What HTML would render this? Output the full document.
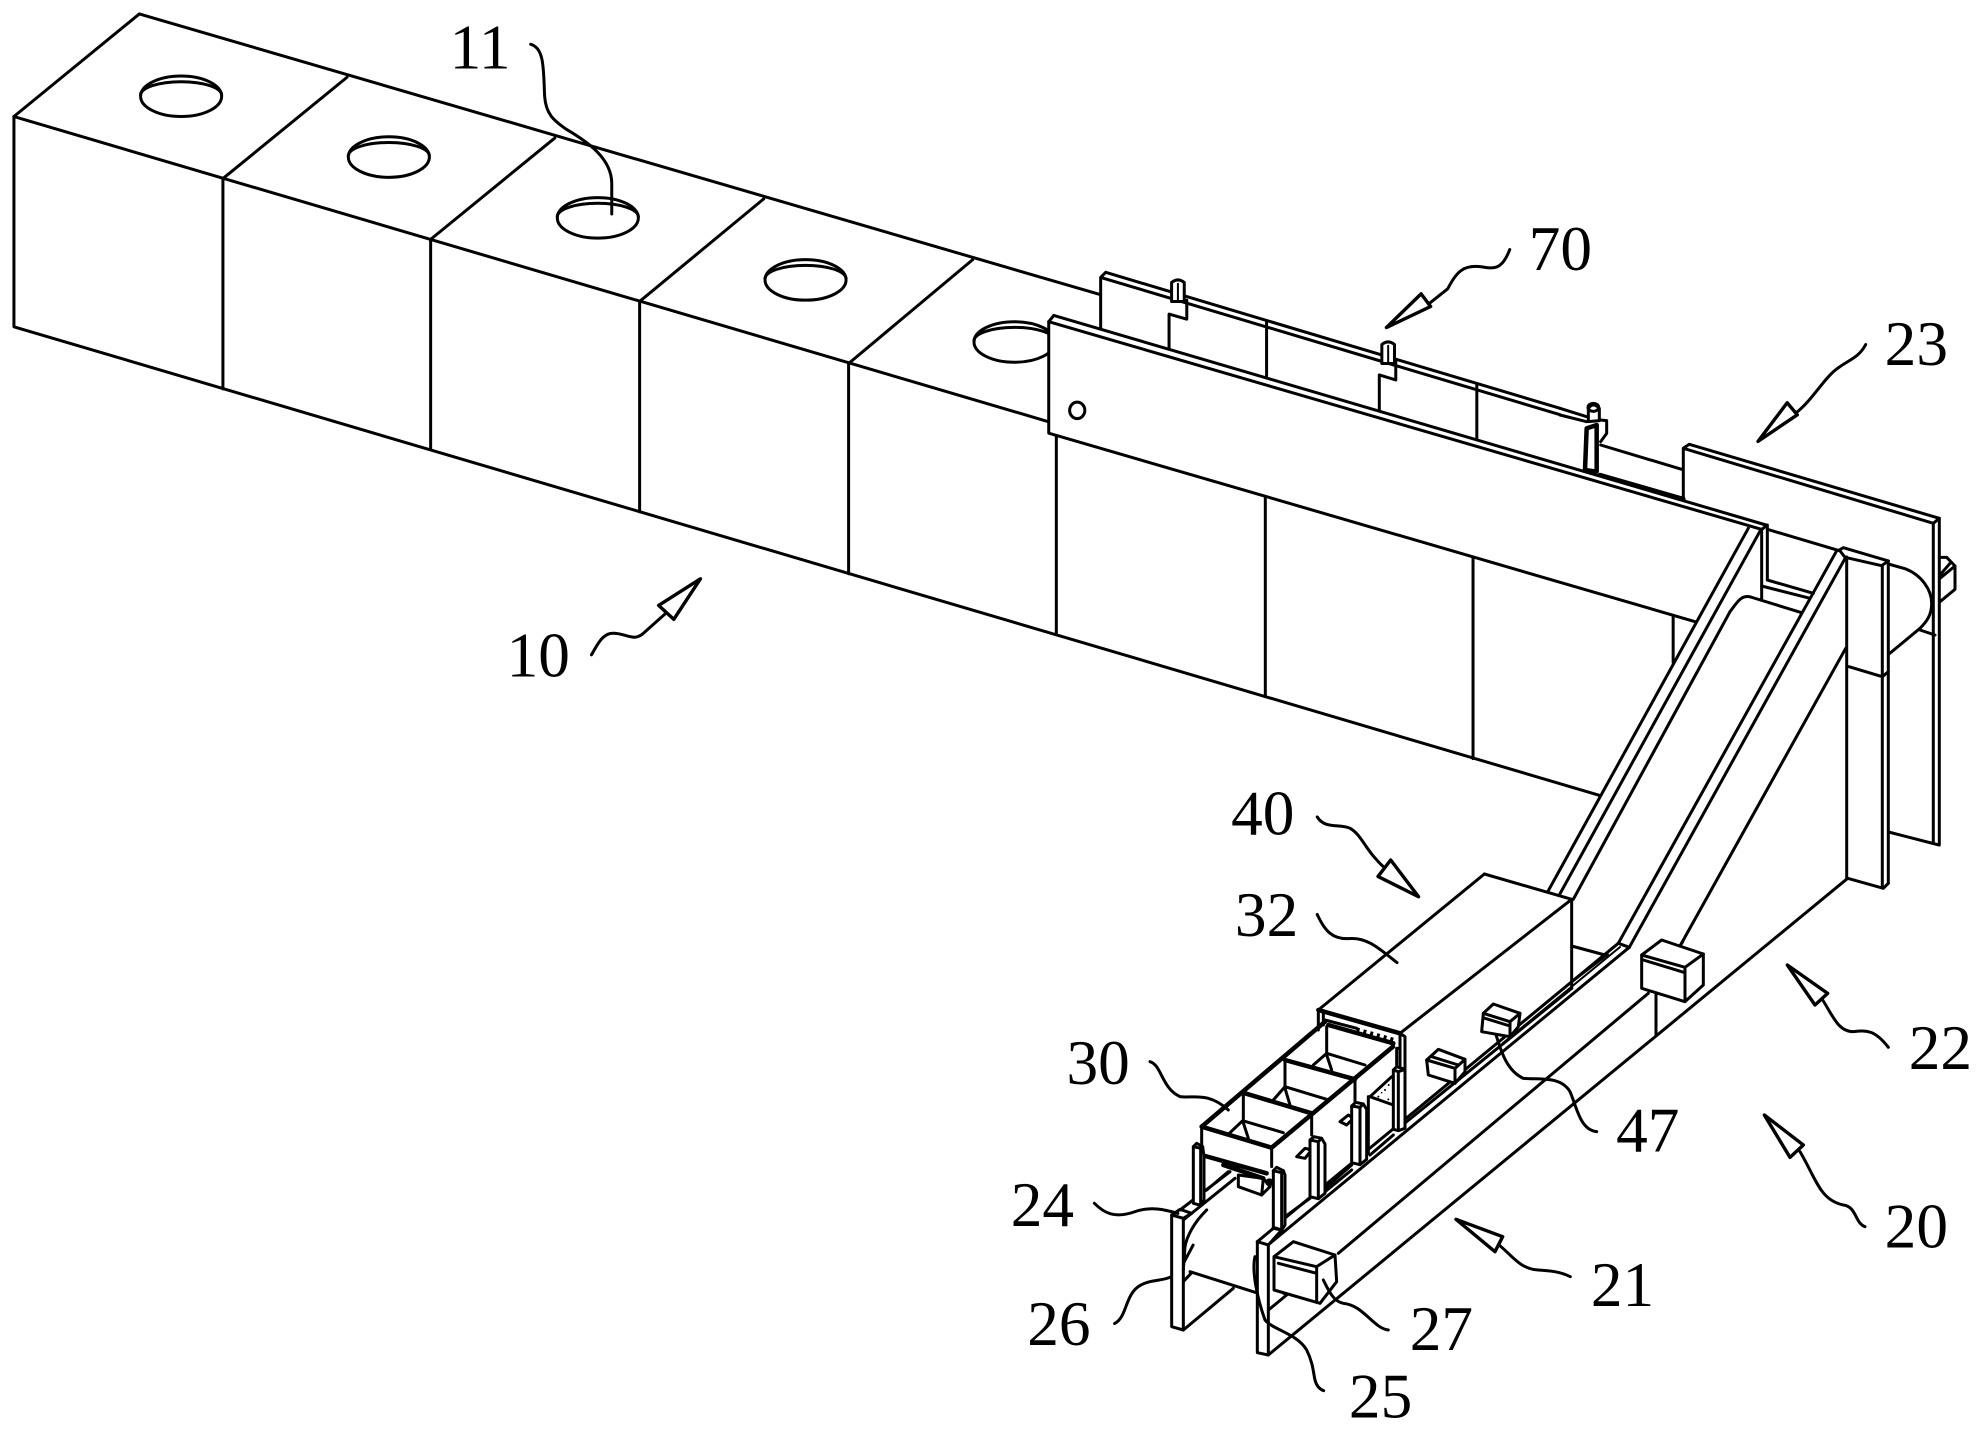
<!DOCTYPE html>
<html><head><meta charset="utf-8"><style>
html,body{margin:0;padding:0;background:#fff}
svg{display:block}
text{font-family:"Liberation Serif",serif;font-size:50px;fill:#000;stroke:none}
path,polyline,polygon,line,ellipse{stroke:#000;stroke-width:3px;fill:none;stroke-linejoin:round;stroke-linecap:round;vector-effect:non-scaling-stroke}
.w{fill:#fff}
.f{fill:#fff;stroke:none}
.a{fill:#fff;stroke-width:3.4px}
.t{stroke-width:4.5px}
.n{stroke-width:2px}
.b{fill:#000;stroke:none}
.d{stroke-width:4px;stroke-dasharray:3 4;stroke-linecap:butt}
</style></head><body>
<svg xmlns="http://www.w3.org/2000/svg" width="1986" height="1431" viewBox="0 0 1986 1431">

<!-- ========== preview coordinate space (1568 wide) ========== -->
<g transform="scale(1.26658)">
<path d="M11,92 L110,11 L870,233"/>
<path d="M11,92 L828,333"/>
<path d="M11,92 V258 L1263,628"/>
<path d="M176,141 V307 M340,189 V355 M505,238 V404 M670,287 V453"/>
<path d="M176,141 L274,61 M340,189 L438,109 M505,238 L603,157 M670,287 L768,205"/>
<path d="M834,340 V501 M999,390 V550 M1163,437 V599 M1321,486 V523"/>
<ellipse cx="143" cy="76" rx="32" ry="16"/><path d="M111,75 A32,10.5 0 0 1 175,75"/>
<ellipse cx="307" cy="124" rx="32" ry="16"/><path d="M275,123 A32,10.5 0 0 1 339,123"/>
<ellipse cx="472" cy="172" rx="32" ry="16"/><path d="M440,171 A32,10.5 0 0 1 504,171"/>
<ellipse cx="636" cy="221" rx="32" ry="16"/><path d="M604,220 A32,10.5 0 0 1 668,220"/>
<ellipse cx="801" cy="270" rx="32" ry="16"/><path d="M769,269 A32,10.5 0 0 1 833,269"/>
<!-- rear plate 70 -->
<polygon class="f" points="873,215 1257,325 1255,331 1255,370 869,260 869,219"/>
<path d="M873,215 L1231.7,322.4 M869,219 L1231.7,327.4 M873,215 L869,219 V260"/>
<path d="M1000,254 V297 M1166,304 V347"/>
<path d="M937,237 V252 L923,248 V275"/>
<path d="M1102,284 V300 L1089,296 V323"/>
<path class="w" d="M925,223 Q930,219 935,223 V238 H925 Z"/>
<path class="n" d="M930,224 V238"/>
<path class="w" d="M1091,272 Q1096,268 1101,272 V287 H1091 Z"/>
<path class="n" d="M1096,273 V287"/>
<!-- front plate -->
<polygon class="f" points="832,249 1395,414.7 1391,418 1339,491 828,342 828,254"/>
<path d="M832,249 L1395,414.7 L1391,418 L828,254 Z"/>
<path d="M828,254 V342 L1339,491"/>
<ellipse cx="850.5" cy="324" rx="6" ry="6.5"/>
<!-- leaders & arrows -->
<path d="M419,35 C430,38 429,55 430,76 C431,90 437,95 447,102 C464,112 483,125 483,145 L483,169"/>
<path d="M1192,197 C1187,210 1182,213 1172,211 C1155,208 1150,215 1143,228 L1128,240"/>
<polygon class="a" points="1094.6,258.6 1122,232 1129.5,242"/>
<path d="M1473,272 C1468,282 1460,284 1452,290 C1440,298 1432,315 1418,326"/>
<polygon class="a" points="1388,348.5 1411,318 1419,327.5"/>
<path d="M467,517 C472,508 476,500 484,500 C495,500 500,507 508,500 L527,483"/>
<polygon class="a" points="553,457 520,478 532,489"/>
<path d="M1040,645 C1046,655 1058,650 1066,654 C1076,660 1078,672 1094,686"/>
<polygon class="a" points="1120,708 1098,679 1088,692"/>
<path d="M1040,722 C1046,735 1052,742 1066,741 C1080,740 1090,750 1103,760"/>
<path d="M864,950 C872,958 880,962 895,957 C908,952 920,955 930,958"/>
<path d="M880,1045 C890,1040 888,1022 900,1015 C912,1008 925,1014 933,1000 L942,983"/>
<text x="355" y="54">11</text>
<text x="1207" y="213">70</text>
<text x="1488" y="288">23</text>
<text x="400" y="534">10</text>
<text x="972" y="659">40</text>
<text x="975" y="739">32</text>
<text x="842" y="856">30</text>
<text x="798" y="968">24</text>
<text x="811" y="1062">26</text>
<text x="1507" y="844">22</text>
<text x="1276" y="909">47</text>
<text x="1488" y="985">20</text>
<text x="1256" y="1031">21</text>
<text x="1113" y="1066">27</text>
<text x="1065" y="1119">25</text>
</g>

<!-- ========== true-pixel coordinates: long members ========== -->
<path d="M1683.3,500 V448.3 L1689.3,444.3 L1939.3,518.3 L1933.3,523.3 L1683.3,448.3"/>
<path d="M1933.3,523.3 V843 M1939.3,518.3 V845"/>
<path d="M1846.7,557 V878.3 M1882.3,565.7 V888 M1888.3,561 V883"/>
<path d="M1748.3,528.3 L1548.3,890.7"/>
<path d="M1761,529.3 L1559.3,895"/>
<path d="M1730,611.7 L1573.3,899.3"/>
<path d="M1836.7,550.7 L1618.3,943.3"/>
<path d="M1845.7,557.3 L1629.3,947.3"/>
<path d="M1845.7,648.3 L1680,946"/>
<path d="M1648.3,993.3 L1338.3,1253.3"/>
<path d="M1847.7,878.3 L1268.3,1355"/>
<path d="M1629.3,947.3 L1268,1245"/>
<path d="M1618.3,943.3 L1273,1228"/>
<path d="M1620,947 L1503,1043" class="n"/>
<path d="M1484.4,874 L1318.3,1010"/>
<path d="M1571.7,899.3 L1400,1033.3"/>
<path d="M1484.4,874 L1571.7,899.3"/>
<path d="M1571.7,988.3 L1405,1123"/>
<path d="M1888.5,832 L1939,845"/>

<!-- ========== zoom A: rail top ========== -->
<g transform="translate(1680,480) scale(0.33333)">
<path d="M245,148 V360 M262,135 V300"/>
<path d="M262,300 L400,340 M245,318 L390,355"/>
<path d="M262,148 L478,212"/>
<path d="M478,210 L490,203 L625,243 L605,257 L495,232 Z"/>
<path d="M625,252 L675,266 C725,285 755,330 755,370 C755,405 740,425 720,445 L627,522"/>
<path d="M720,450 L765,465"/>
<path d="M780,232 H800 L825,258 V328 L780,365 M780,285 L810,250 M780,295 L825,258"/>
<path d="M365,398 L212,351 C190,345 178,358 165,375 L150,395"/>
<path d="M507,560 L607,590 L625,575"/>
</g>

<!-- ========== zoom E: third pin, rear line ========== -->
<g transform="translate(1560,400) scale(0.33333)">
<path d="M0,25 L80,50 M0,45 L80,65"/>
<path d="M122,135 L365,208"/>
<path class="t" d="M120,225 L370,297"/>
<path d="M120,60 L140,62 V100 L122,125"/>
<path class="w" d="M85,25 Q100,5 118,25 V62 L85,65 Z"/>
<ellipse cx="100" cy="22" rx="16" ry="12"/>
<path class="w t" d="M80,85 L110,75 V215 L75,210 Z"/>
</g>

<!-- ========== zoom B: box 32 corner, block 22 ========== -->
<g transform="translate(1500,860) scale(0.33333)">
<path d="M215,118 V385 M215,258 L315,285 M215,365 L322,283 M355,250 L388,262"/>
<path d="M468,400 V525"/>
<polygon class="w" points="425,285 485,240 610,282 610,375 555,425 425,385"/>
<path d="M425,285 L555,322 L610,282 M555,322 V425 M430,300 L555,338"/>
<path d="M540,258 L548,245"/>
</g>

<!-- rear side bottom -->
<g transform="translate(1500,840) scale(0.33333)">
<path d="M1043,115 L1150,145 L1165,130"/>
<polygon class="a" points="862,375 983,460 945,495"/>
<path d="M968,480 C1000,530 1015,575 1060,575 C1100,570 1125,570 1165,622"/>
<polygon class="a" points="793,825 910,915 870,952"/>
<path d="M900,935 C950,1020 960,1080 1030,1095 C1070,1100 1065,1150 1095,1160"/>
<path d="M-15,575 C0,620 15,690 70,715 C110,720 180,705 210,755 C230,800 240,870 290,875"/>
</g>

<!-- ========== zoom D: hopper back ========== -->
<g transform="translate(1300,1000) scale(0.33333)">
<path class="t" d="M55,30 L300,100"/>
<path d="M55,30 V90 M70,32 V75"/>
<path d="M75,60 L170,85"/>
<path class="d" d="M170,88 L290,122"/>
<path class="t" d="M85,75 L280,130"/>
<path d="M300,100 L315,110 V210 M300,100 V200"/>
<path d="M290,145 V195 M300,145 H290"/>
<polygon class="f" points="210,290 275,230 275,315"/>
<path d="M210,290 L275,230 M210,290 L280,315"/>
<circle class="b" cx="235" cy="290" r="3"/><circle class="b" cx="255" cy="270" r="3"/><circle class="b" cx="265" cy="298" r="3"/><circle class="b" cx="266" cy="255" r="3"/><circle class="b" cx="245" cy="278" r="2.5"/>
<path d="M315,370 L600,140" class="n"/>
<path d="M210,465 L280,405 M75,575 L155,510 M205,460 V290"/>
<!-- third tray back -->
<path d="M80,80 V160 M40,195 L80,160 L195,195 M80,165 L95,210"/>
<!-- post 4 -->
<polygon class="w" points="280,210 290,200 315,208 315,385 295,392 280,388"/>
<path d="M295,215 V390 M280,210 L295,215 L315,208"/>
<!-- motor -->
<polygon class="w" points="380,180 415,148 495,178 495,215 465,250 385,225"/>
<path d="M380,180 L465,205 L495,178 M465,205 V250 M395,170 L475,195"/>
</g>

<!-- ========== zoom C: hopper front ========== -->
<g transform="translate(1180,1050) scale(0.33333)">
<path d="M0,480 L150,365 M10,510 L165,385 M80,420 L145,365"/>
<path d="M315,500 L390,445 M435,415 L515,345"/>
<!-- brackets -->
<path d="M350,320 L375,295 L395,300 L375,325 Z M480,215 L505,195 L520,205 L500,225 Z"/>
<!-- motor -->
<polygon class="w" points="175,375 175,410 245,435 270,410 250,385"/>
<path d="M250,385 L245,435"/>
<circle class="b" cx="268" cy="397" r="12"/>
<!-- hopper faces -->
<polygon class="f" points="65,230 275,293 272,370 65,312"/>
<path d="M65,230 V312 M275,293 V350"/>
<path class="t" d="M65,315 L260,370 M130,345 L250,385"/>
<path d="M395,190 V255 M525,88 V155"/>
<path class="t" d="M65,230 L435,-85"/>
<path class="t" d="M65,230 L275,293 L639,-10"/>
<path class="t" d="M195,130 L395,190 M315,30 L525,88"/>
<path d="M190,130 V215 M148,250 L188,212 L310,248 M188,212 L205,265"/>
<path d="M315,30 V110 M280,150 L315,110 L440,148 M315,115 L330,165"/>
<!-- posts -->
<polygon class="w" points="40,290 50,280 68,290 72,320 72,450 62,466 40,460"/>
<path d="M62,295 V465 M40,290 L62,295 L68,290"/>
<polygon class="w" points="280,362 290,352 310,362 315,375 315,525 305,540 280,532"/>
<path d="M305,368 V540 M280,362 L305,368 L310,362"/>
<polygon class="w" points="390,270 402,260 425,265 435,282 435,430 415,446 390,440"/>
<path d="M415,275 V446 M390,270 L415,275 L425,265"/>
<polygon class="w" points="515,168 527,157 550,162 560,178 560,328 540,344 515,338"/>
<path d="M540,172 V344 M515,168 L540,172 L550,162"/>
</g>

<!-- ========== zoom 2 (1150,980): front ends ========== -->
<g transform="translate(1150,980) scale(0.33333)">
<path d="M100,1050 L250,925"/>
<path d="M120,875 L325,940 M65,900 L95,910 L125,878"/>
<polygon class="w" points="65,705 100,715 100,1050 65,1040"/>
<path d="M65,705 L90,688 L125,700 L100,715"/>
<path d="M170,690 C130,730 110,770 105,800 L100,870"/>
<polygon class="w" points="322,785 355,795 355,1125 322,1118"/>
<path d="M322,785 L370,745 L395,750 L355,795"/>
<path d="M385,930 L410,945 L355,990"/>
<!-- box 27 -->
<polygon class="w" points="372,830 430,785 555,825 560,905 510,970 372,930"/>
<path d="M372,830 L500,860 L555,825 M500,860 V965 M385,850 L500,880"/>
<!-- motor 47 -->
<polygon class="w" points="1000,100 1030,72 1110,100 1105,140 1080,170 995,155"/>
<path d="M1000,100 L1080,125 L1110,100 M1080,125 V170 M1005,115 L1080,138"/>
<!-- leaders -->
<path d="M0,245 C35,255 35,325 90,350 C130,355 175,335 235,390"/>
<path d="M315,830 C305,870 320,950 345,1020 C370,1050 440,1060 470,1110 C490,1150 490,1180 495,1200 C500,1220 510,1228 521,1232"/>
<path d="M520,900 C535,930 550,965 580,970 C640,975 670,1045 715,1050"/>
<polygon class="a" points="918,718 1058,770 1035,815"/>
<path d="M1047,795 C1085,825 1110,868 1165,870 C1200,872 1230,875 1261,890"/>
</g>
</svg>
</body></html>
